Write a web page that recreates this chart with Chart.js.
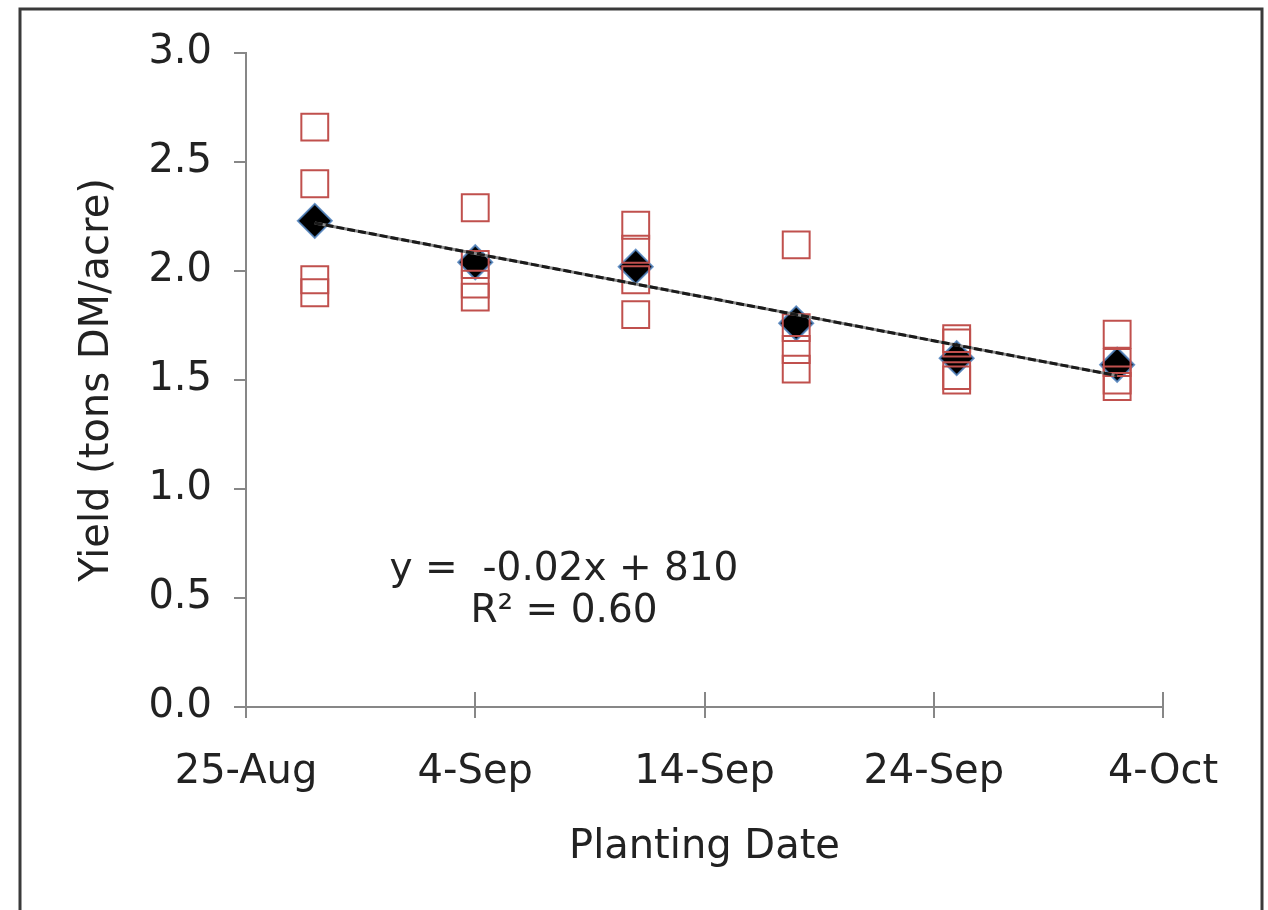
<!DOCTYPE html>
<html>
  <head>
    <title>Yield vs Planting Date</title>
    <script src="https://cdn.jsdelivr.net/npm/chart.js"></script>
    <style>
      body {
        margin: 0;
        background: #fff;
      }
      #chart {
        display: block;
      }
    </style>
  </head>
  <body>
    <canvas id="chart" width="1268" height="910"></canvas>
    <script>
      // days after 25-Aug
      const plantingDays = [3, 10, 17, 24, 31, 38];
      const tickDays = [0, 10, 20, 30, 40];
      const tickLabels = ["25-Aug", "4-Sep", "14-Sep", "24-Sep", "4-Oct"];

      // four replicate plots per planting date
      const rep1 = [2.66, 2.29, 2.21, 2.12, 1.69, 1.71];
      const rep2 = [2.40, 2.03, 2.10, 1.74, 1.67, 1.58];
      const rep3 = [1.96, 1.94, 1.96, 1.64, 1.52, 1.50];
      const rep4 = [1.90, 1.88, 1.80, 1.55, 1.50, 1.47];
      const meanYield = [2.23, 2.04, 2.02, 1.76, 1.60, 1.57];

      // linear trendline ends
      const trendDays = [3, 38];
      const trendYield = [2.22, 1.52];

      const equationLines = ["y =  -0.02x + 810", "R\u00b2 = 0.60"];

      const FONT = "'DejaVu Sans', Verdana, sans-serif";
      const TEXT = "#222";
      const AXIS = "#878787";

      const pts = (xs, ys) => xs.map((x, i) => ({ x: x, y: ys[i] }));
      const reps = [rep1, rep2, rep3, rep4].flatMap((r) => pts(plantingDays, r));

      const extras = {
        id: "extras",
        beforeDraw(chart) {
          const ctx = chart.ctx;
          ctx.save();
          ctx.strokeStyle = "#3a3a3a";
          ctx.lineWidth = 3;
          ctx.beginPath();
          ctx.moveTo(20, 915);
          ctx.lineTo(20, 9);
          ctx.lineTo(1262, 9);
          ctx.lineTo(1262, 915);
          ctx.stroke();
          ctx.restore();
        },
        afterDatasetsDraw(chart) {
          const ctx = chart.ctx;
          const xs = chart.scales.x;
          const ys = chart.scales.y;
          ctx.save();
          // x tick marks cross the axis
          ctx.strokeStyle = AXIS;
          ctx.lineWidth = 2;
          tickDays.forEach((d) => {
            const px = Math.round(xs.getPixelForValue(d));
            ctx.beginPath();
            ctx.moveTo(px, ys.bottom);
            ctx.lineTo(px, ys.bottom - 15);
            ctx.stroke();
          });
          ctx.fillStyle = TEXT;
          ctx.font = "39px " + FONT;
          ctx.textAlign = "center";
          ctx.textBaseline = "middle";
          ctx.fillText(equationLines[0], 564, 570);
          ctx.fillText(equationLines[1], 564, 612);
          ctx.restore();
        },
      };

      new Chart(document.getElementById("chart"), {
        type: "scatter",
        data: {
          datasets: [
            {
              label: "Trend",
              type: "line",
              data: pts(trendDays, trendYield),
              borderColor: "#1a1a1a",
              borderWidth: 3,
              borderDash: [8, 3],
              pointRadius: 0,
              order: 0,
            },
            {
              label: "Trend base",
              type: "line",
              data: pts(trendDays, trendYield),
              borderColor: "#8a8a8a",
              borderWidth: 3,
              pointRadius: 0,
              order: 1,
            },
            {
              label: "Plots",
              data: reps,
              pointStyle: "rect",
              pointRadius: 19,
              backgroundColor: "rgba(0,0,0,0)",
              borderColor: "#c0504d",
              borderWidth: 2,
              order: 2,
            },
            {
              label: "Mean",
              data: pts(plantingDays, meanYield),
              pointStyle: "rectRot",
              pointRadius: 17,
              backgroundColor: "#000",
              borderColor: "rgba(79,129,189,0.85)",
              borderWidth: 2,
              order: 3,
            },
          ],
        },
        options: {
          responsive: false,
          animation: false,
          layout: { padding: { left: 0, top: 53, right: 105, bottom: 0 } },
          plugins: {
            legend: { display: false },
            tooltip: { enabled: false },
          },
          scales: {
            x: {
              type: "linear",
              min: 0,
              max: 40,
              afterBuildTicks: (scale) => {
                scale.ticks = tickDays.map((v) => ({ value: v }));
              },
              afterFit: (scale) => {
                scale.height = 203;
              },
              ticks: {
                color: TEXT,
                font: { family: FONT, size: 40 },
                padding: 31,
                maxRotation: 0,
                callback: (v) => tickLabels[tickDays.indexOf(v)],
              },
              grid: {
                drawOnChartArea: false,
                color: AXIS,
                lineWidth: 2,
                tickLength: 11,
              },
              border: { color: AXIS, width: 2 },
              title: {
                display: true,
                text: "Planting Date",
                color: TEXT,
                font: { family: FONT, size: 40 },
                padding: { top: 0, bottom: 38 },
              },
            },
            y: {
              min: 0,
              max: 3,
              afterFit: (scale) => {
                scale.width = 246;
              },
              ticks: {
                stepSize: 0.5,
                color: TEXT,
                font: { family: FONT, size: 40 },
                padding: 22,
                callback: (v) => v.toFixed(1),
              },
              grid: {
                drawOnChartArea: false,
                color: AXIS,
                lineWidth: 2,
                tickLength: 12,
              },
              border: { color: AXIS, width: 2 },
              title: {
                display: true,
                text: "Yield (tons DM/acre)",
                color: TEXT,
                font: { family: FONT, size: 40 },
                padding: { top: 74, bottom: 0 },
              },
            },
          },
        },
        plugins: [extras],
      });
    </script>
  </body>
</html>
